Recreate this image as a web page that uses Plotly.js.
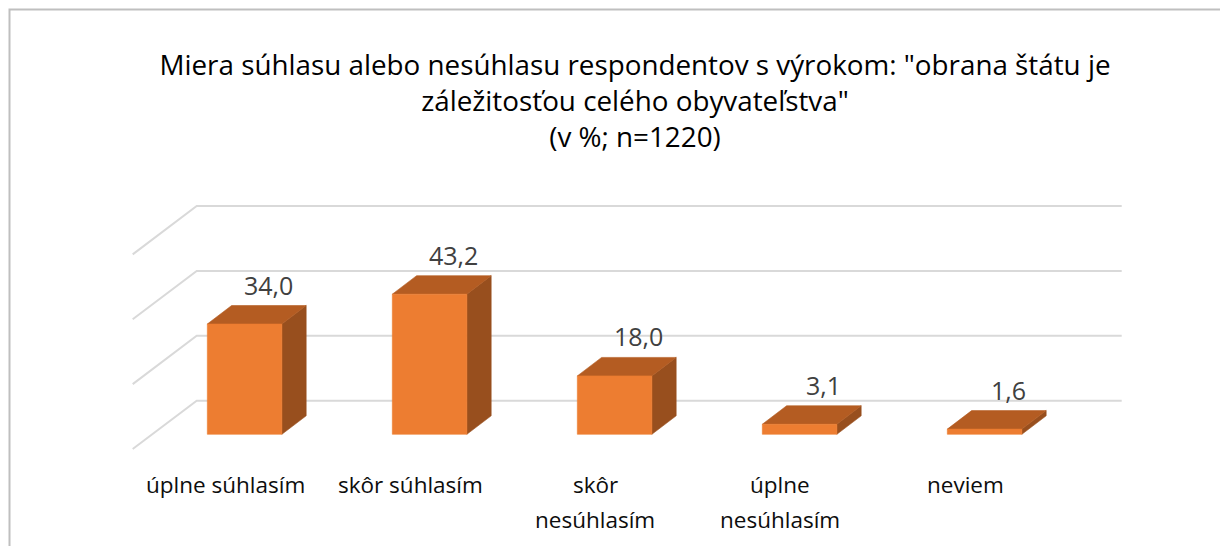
<!DOCTYPE html>
<html>
<head>
<meta charset="utf-8">
<script src="https://cdn.plot.ly/plotly-3.0.1.min.js"></script>
<style>html,body{margin:0;padding:0;background:#fff;}#chart{width:1220px;height:546px;}</style>
</head>
<body>
<div id="chart"></div>
<script>
// ---- data ----
const categories = ["úplne súhlasím", "skôr súhlasím", "skôr<br>nesúhlasím", "úplne<br>nesúhlasím", "neviem"];
const values = [34.0, 43.2, 18.0, 3.1, 1.6];
const gridTicks = [0, 20, 40, 60];
const titleLines = ["Miera súhlasu alebo nesúhlasu respondentov s výrokom: \"obrana štátu je", "záležitosťou celého obyvateľstva\"", "(v %; n=1220)"];

// ---- style / geometry (pseudo-3D oblique projection, in axis units) ----
const W = 1220, H = 546;
const M = {l: 120, r: 90, t: 195, b: 85};
const pxPerCat = 185, pxPerVal = 3.244;
const catOriginPx = 244.6, zeroPx = 434.3;  // bar front plane
const barWidth = 0.403;
const floorFront = {dx: -19.4 / pxPerCat, dy: -14.7 / pxPerVal};
const barBack = {dx: 24.3 / pxPerCat, dy: 18.5 / pxPerVal};
const backWall = {dx: 44.6 / pxPerCat, dy: 33.6 / pxPerVal};
const colFront = "#ED7D31", colTop = "#B45C22", colSide = "#984F1E", colGrid = "#D9D9D9";
const FONT = "Open Sans, sans-serif";

const xRange = [(M.l - catOriginPx) / pxPerCat, (W - M.r - catOriginPx) / pxPerCat];
const yRange = [(zeroPx - (H - M.b)) / pxPerVal, (zeroPx - M.t) / pxPerVal];

const n = categories.length;
const traces = [];

// gridlines: back wall + left wall diagonals
const gx = [], gy = [];
gridTicks.forEach(t => {
  gx.push(-0.5 + floorFront.dx, -0.5 + backWall.dx, (n - 0.5) + backWall.dx, null);
  gy.push(t + floorFront.dy, t + backWall.dy, t + backWall.dy, null);
});
traces.push({x: gx, y: gy, mode: "lines", line: {color: colGrid, width: 2}, hoverinfo: "skip"});

// bar faces
const faceSide = {x: [], y: []}, faceTop = {x: [], y: []}, faceFront = {x: [], y: []};
values.forEach((v, i) => {
  const L = i - barWidth / 2, R = i + barWidth / 2;
  faceSide.x.push(R, R + barBack.dx, R + barBack.dx, R, R, null);
  faceSide.y.push(0, barBack.dy, v + barBack.dy, v, 0, null);
  faceTop.x.push(L, R, R + barBack.dx, L + barBack.dx, L, null);
  faceTop.y.push(v, v, v + barBack.dy, v + barBack.dy, v, null);
  faceFront.x.push(L, R, R, L, L, null);
  faceFront.y.push(0, 0, v, v, 0, null);
});
[[faceSide, colSide], [faceTop, colTop], [faceFront, colFront]].forEach(([f, c]) => {
  traces.push({x: f.x, y: f.y, mode: "lines", fill: "toself", fillcolor: c,
    line: {color: c, width: 0.6}, hoverinfo: "skip"});
});

const annotations = [];
// data labels
values.forEach((v, i) => {
  annotations.push({x: i + barBack.dx, y: v + barBack.dy, xref: "x", yref: "y",
    text: v.toFixed(1).replace(".", ","), showarrow: false, yanchor: "middle", yshift: 21,
    font: {family: FONT, size: 25, color: "#404040"}});
});
// category labels (one annotation per line for Excel-like line spacing)
const catLineGap = 35, catFirstLine = 35;
categories.forEach((c, i) => {
  c.split("<br>").forEach((line, k) => {
    annotations.push({x: i + floorFront.dx, y: floorFront.dy, xref: "x", yref: "y",
      text: line, showarrow: false, yanchor: "middle", yshift: -(catFirstLine + k * catLineGap),
      font: {family: FONT, size: 22.5, color: "#0D0D0D"}});
  });
});

// chart border (only top and left edges are within the picture)
const plotW = W - M.l - M.r, plotH = H - M.t - M.b;
const px2paperX = px => (px - M.l) / plotW;
const px2paperY = py => (H - M.b - py) / plotH;
const shapes = [{type: "path", xref: "paper", yref: "paper",
  path: `M ${px2paperX(9.5)} ${px2paperY(H + 20)} L ${px2paperX(9.5)} ${px2paperY(9.5)} L ${px2paperX(W + 20)} ${px2paperY(9.5)}`,
  line: {color: "#BFBFBF", width: 2}, layer: "above"}];

const layout = {
  width: W, height: H, margin: M,
  paper_bgcolor: "#fff", plot_bgcolor: "#fff",
  showlegend: false, hovermode: false,
  title: {text: titleLines.join("<br>"), font: {family: FONT, size: 27.8, color: "#000"},
    x: 635 / W, xref: "container", xanchor: "center", y: 1 - 75 / H, yref: "container", yanchor: "top"},
  xaxis: {range: xRange, visible: false, fixedrange: true},
  yaxis: {range: yRange, visible: false, fixedrange: true},
  annotations: annotations, shapes: shapes
};
Plotly.newPlot("chart", traces, layout, {displayModeBar: false, staticPlot: true});
</script>
</body>
</html>
